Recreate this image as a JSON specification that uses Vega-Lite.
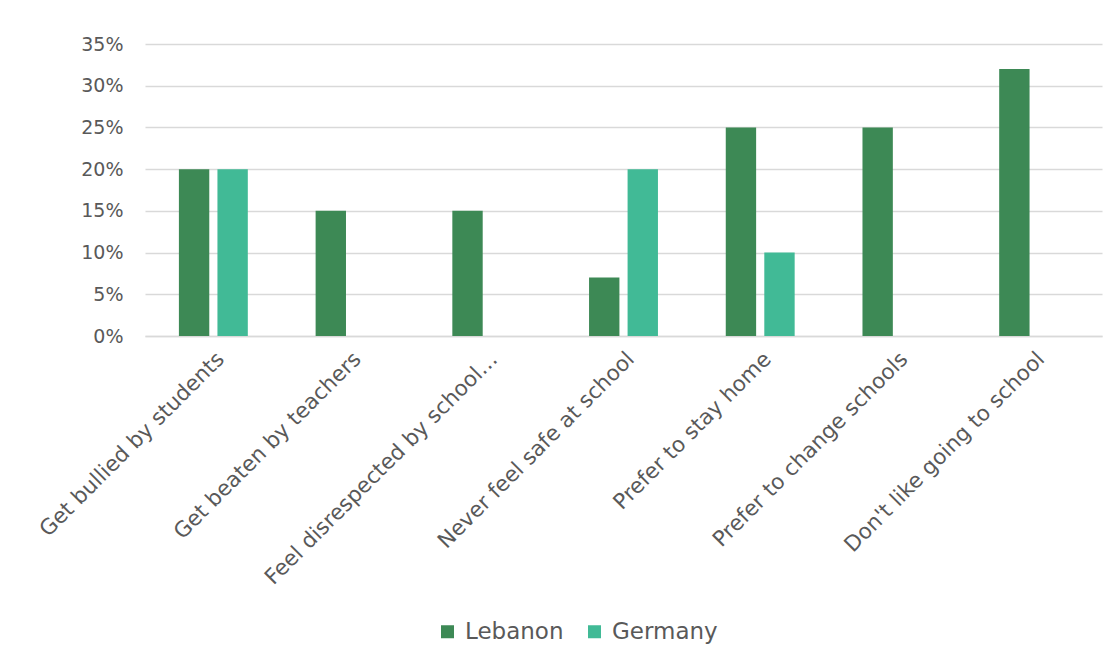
{
  "$schema": "https://vega.github.io/schema/vega-lite/v6.json",
  "autosize": "none",
  "width": 957,
  "height": 292,
  "padding": {"left": 145, "top": 44, "right": 14, "bottom": 324},
  "background": "white",
  "data": {
    "values": [
      {"item": "Get bullied by students", "country": "Lebanon", "pct": 20},
      {"item": "Get bullied by students", "country": "Germany", "pct": 20},
      {"item": "Get beaten by teachers", "country": "Lebanon", "pct": 15},
      {"item": "Get beaten by teachers", "country": "Germany", "pct": 0},
      {"item": "Feel disrespected by school…", "country": "Lebanon", "pct": 15},
      {"item": "Feel disrespected by school…", "country": "Germany", "pct": 0},
      {"item": "Never feel safe at school", "country": "Lebanon", "pct": 7},
      {"item": "Never feel safe at school", "country": "Germany", "pct": 20},
      {"item": "Prefer to stay home", "country": "Lebanon", "pct": 25},
      {"item": "Prefer to stay home", "country": "Germany", "pct": 10},
      {"item": "Prefer to change schools", "country": "Lebanon", "pct": 25},
      {"item": "Prefer to change schools", "country": "Germany", "pct": 0},
      {"item": "Don't like going to school", "country": "Lebanon", "pct": 32},
      {"item": "Don't like going to school", "country": "Germany", "pct": 0}
    ]
  },
  "mark": {"type": "bar"},
  "encoding": {
    "x": {
      "field": "item",
      "type": "nominal",
      "sort": null,
      "scale": {"paddingInner": 0.496, "paddingOuter": 0.248},
      "axis": {
        "title": null,
        "labelAngle": -45,
        "labelAlign": "right",
        "labelBaseline": "top",
        "labelPadding": 12,
        "labelLimit": 400,
        "labelFontSize": 21.5,
        "ticks": false,
        "domain": true,
        "domainColor": "#d9d9d9",
        "domainWidth": 1.5
      }
    },
    "xOffset": {
      "field": "country",
      "type": "nominal",
      "sort": ["Lebanon", "Germany"],
      "scale": {"paddingInner": 0.212, "paddingOuter": 0}
    },
    "y": {
      "field": "pct",
      "type": "quantitative",
      "scale": {"domain": [0, 35], "nice": false},
      "axis": {
        "title": null,
        "values": [0, 5, 10, 15, 20, 25, 30, 35],
        "labelExpr": "datum.value + '%'",
        "labelOverlap": false,
        "domain": false,
        "ticks": false,
        "labelPadding": 22,
        "gridColor": "#d9d9d9",
        "gridWidth": 1.5
      }
    },
    "color": {
      "field": "country",
      "type": "nominal",
      "sort": ["Lebanon", "Germany"],
      "scale": {"domain": ["Lebanon", "Germany"], "range": ["#3d8955", "#41ba96"]},
      "legend": {
        "title": null,
        "orient": "none",
        "direction": "horizontal",
        "legendX": 291,
        "legendY": 576,
        "symbolType": "square",
        "symbolSize": 169,
        "symbolStrokeWidth": 0,
        "labelOffset": 6,
        "columnPadding": 19
      }
    }
  },
  "config": {
    "view": {"stroke": null},
    "font": "DejaVu Sans",
    "axis": {"labelFont": "DejaVu Sans", "labelFontSize": 19, "labelColor": "#595959"},
    "legend": {"labelFont": "DejaVu Sans", "labelFontSize": 23, "labelColor": "#595959"}
  }
}
